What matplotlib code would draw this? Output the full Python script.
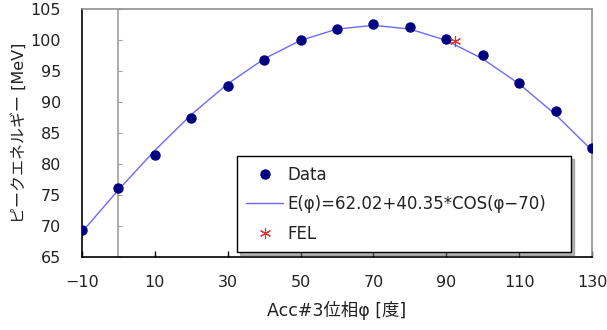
import matplotlib
matplotlib.use("Agg")
import matplotlib.pyplot as plt

plt.rcParams['font.family'] = ['DejaVu Sans', 'Noto Sans CJK JP']

# measured data
phase = [-10, 0, 10, 20, 30, 40, 50, 60, 70, 80, 90, 100, 110, 120, 130]
energy = [69.35, 76.2, 81.5, 87.4, 92.6, 96.8, 99.95, 101.7, 102.6, 102.05,
          100.1, 97.6, 93.1, 88.6, 82.6]

# fitted curve as plotted (values at each data phase)
fit_phase = [-10, 0, 10, 20, 30, 40, 50, 60, 70, 80, 90, 100, 110, 120, 130]
fit_energy = [69.03, 75.82, 82.20, 87.96, 92.93, 96.96, 99.94, 101.76,
              102.37, 101.76, 99.94, 96.96, 92.93, 87.96, 82.20]

fel_phase = [92.5]
fel_energy = [99.8]

xticks = [-10, 10, 30, 50, 70, 90, 110, 130]
yticks = [65, 70, 75, 80, 85, 90, 95, 100, 105]

txt = "#222222"

fig = plt.figure(figsize=(6.07, 3.30), dpi=100)
ax = fig.add_axes([82 / 607, 73 / 330, 510 / 607, 248 / 330])

ax.axvline(0, color="#a0a0a0", lw=1.2, zorder=1)
ax.plot(fit_phase, fit_energy, color="#6a6aff", lw=1.0, zorder=2,
        label="E(φ)=62.02+40.35*COS(φ−70)")
ax.plot(phase, energy, "o", color="#000080", ms=6.5, zorder=3, label="Data")
ax.plot(fel_phase, fel_energy, ls="none", marker=(6, 2, 0), color="#e03030",
        ms=8, mew=0.8, zorder=4, label="FEL")

ax.set_xlim(-10, 130)
ax.set_ylim(65, 105)
ax.set_xticks(xticks)
ax.set_yticks(yticks)
ax.set_xticklabels(["−10"] + [str(v) for v in xticks[1:]])
ax.tick_params(axis="x", direction="in", length=4, width=1, labelsize=11.5,
               pad=13, labelcolor=txt)
ax.tick_params(axis="y", length=0, labelsize=11.5, pad=15, labelcolor=txt)

for s in ["left", "bottom"]:
    ax.spines[s].set_color("black")
    ax.spines[s].set_linewidth(1.2)
for s in ["top", "right"]:
    ax.spines[s].set_color("#909090")
    ax.spines[s].set_linewidth(1.2)

# y tick marks on the vertical line at phase 0
sec = ax.secondary_yaxis(10 / 140)
sec.set_yticks(yticks)
sec.tick_params(axis="y", direction="in", length=3, color="#a0a0a0", labelleft=False)
sec.spines["left"].set_visible(False)

ax.set_xlabel("Acc#3位相φ [度]", fontsize=12.5, labelpad=8, color=txt)
ax.set_ylabel("ピークエネルギー [MeV]", fontsize=11.5, labelpad=3, color=txt)

handles, labels = ax.get_legend_handles_labels()
order = [1, 0, 2]
leg = ax.legend([handles[i] for i in order], [labels[i] for i in order],
                loc="lower left", bbox_to_anchor=(0.304, 0.02, 0.655, 0.38),
                mode="expand", borderaxespad=0, fontsize=12, frameon=True,
                fancybox=False, edgecolor="black", framealpha=1,
                shadow={"color": "#707070"}, labelspacing=0.7,
                handlelength=2.2, borderpad=0.55, handletextpad=0.3,
                labelcolor=txt)
leg.get_frame().set_linewidth(1.0)

fig.savefig("out.png", dpi=100)
